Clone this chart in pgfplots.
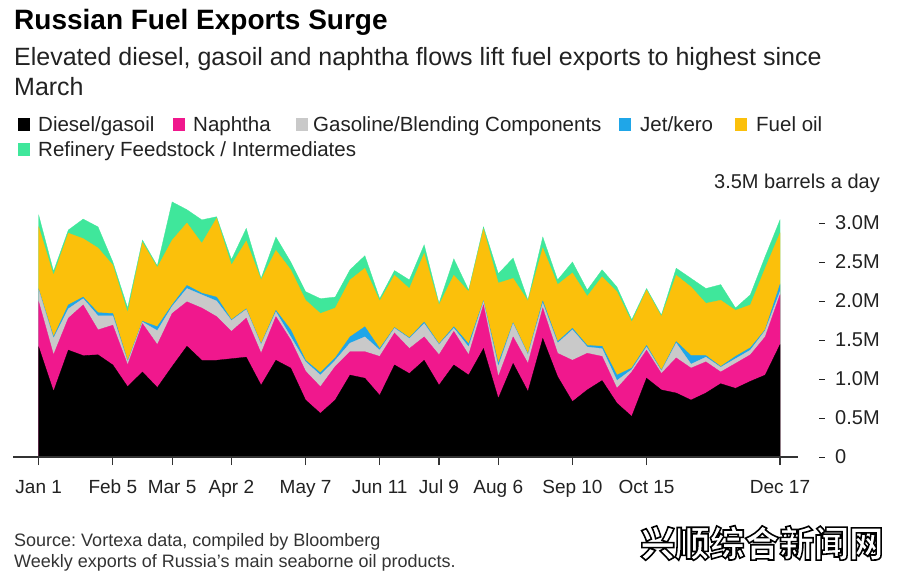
\documentclass[border=0pt]{standalone}
\usepackage{pgfplots}
\usepackage{pgfplotstable}
\pgfplotsset{compat=1.18}
\usepackage{fontspec}
\setmainfont{Liberation Sans}
\newfontfamily\cjk{Noto Sans CJK SC}
\frenchspacing

\definecolor{cDiesel}{HTML}{000000}
\definecolor{cNaph}{HTML}{F0188D}
\definecolor{cGas}{HTML}{C9C9C9}
\definecolor{cJet}{HTML}{1FA6E8}
\definecolor{cFuel}{HTML}{FBC00B}
\definecolor{cRef}{HTML}{3FE79B}
\definecolor{txt}{HTML}{222222}
\definecolor{src}{HTML}{333333}

% cumulative tops (million barrels a day), weekly from Jan 1 (x=0) to Dec 17 (x=50)
\pgfplotstableread{
x  D    N    G    J    F    R
0  1.41 1.99 2.14 2.15 2.95 3.10
1  0.84 1.31 1.52 1.54 2.33 2.38
2  1.37 1.78 1.90 1.95 2.87 2.91
3  1.30 1.95 2.03 2.05 2.80 3.05
4  1.31 1.63 1.81 1.85 2.68 2.95
5  1.18 1.69 1.81 1.84 2.46 2.50
6  0.90 1.18 1.22 1.23 1.85 1.91
7  1.09 1.71 1.73 1.74 2.75 2.78
8  0.89 1.44 1.62 1.67 2.43 2.45
9  1.16 1.84 1.93 1.95 2.78 3.27
10 1.42 1.99 2.16 2.20 3.00 3.17
11 1.24 1.91 2.08 2.10 2.74 3.04
12 1.24 1.80 2.00 2.05 3.06 3.08
13 1.26 1.61 1.75 1.76 2.46 2.53
14 1.28 1.78 1.89 1.90 2.77 2.93
15 0.92 1.33 1.44 1.45 2.27 2.29
16 1.24 1.80 1.86 1.88 2.65 2.82
17 1.14 1.50 1.54 1.63 2.40 2.50
18 0.73 1.10 1.22 1.24 2.01 2.12
19 0.56 0.90 1.05 1.08 1.84 2.03
20 0.73 1.16 1.24 1.27 1.91 2.05
21 1.05 1.35 1.46 1.54 2.27 2.40
22 1.01 1.35 1.54 1.67 2.42 2.58
23 0.79 1.29 1.37 1.39 2.00 2.03
24 1.18 1.59 1.65 1.66 2.33 2.39
25 1.07 1.39 1.52 1.53 2.16 2.27
26 1.24 1.54 1.71 1.73 2.61 2.72
27 0.92 1.31 1.44 1.45 1.95 1.97
28 1.18 1.61 1.65 1.67 2.33 2.54
29 1.05 1.31 1.41 1.45 2.12 2.14
30 1.39 1.95 1.99 2.00 2.92 2.95
31 0.75 1.03 1.16 1.20 2.23 2.35
32 1.20 1.54 1.71 1.72 2.29 2.55
33 0.84 1.20 1.31 1.32 2.00 2.01
34 1.52 1.91 1.97 2.00 2.68 2.82
35 1.03 1.33 1.46 1.48 2.21 2.27
36 0.71 1.24 1.63 1.65 2.36 2.50
37 0.86 1.33 1.41 1.43 2.06 2.14
38 0.98 1.29 1.39 1.42 2.31 2.40
39 0.69 0.88 0.98 1.05 2.12 2.18
40 0.52 1.09 1.12 1.14 1.73 1.76
41 1.01 1.37 1.41 1.43 2.14 2.16
42 0.86 1.07 1.10 1.11 1.80 1.82
43 0.82 1.27 1.46 1.48 2.33 2.42
44 0.73 1.14 1.19 1.30 2.18 2.29
45 0.82 1.22 1.28 1.30 1.97 2.16
46 0.94 1.09 1.15 1.16 2.01 2.21
47 0.88 1.20 1.26 1.29 1.88 1.91
48 0.97 1.31 1.37 1.40 1.95 2.08
49 1.05 1.54 1.62 1.63 2.42 2.57
50 1.44 2.08 2.12 2.21 2.87 3.04
}\fuel

\newcommand{\yt}[1]{\rule[6pt]{6pt}{1.1pt}\hspace{10pt}#1}

\begin{document}
\begin{tikzpicture}[x=1pt,y=1pt]
\useasboundingbox (0,0) rectangle (900,574);
\fill[white] (0,0) rectangle (900,574);

% titles
\node[anchor=base west, inner sep=0, font=\fontsize{28}{30}\selectfont\bfseries] at (14,544) {Russian Fuel Exports Surge};
\node[anchor=base west, inner sep=0, text=txt, font=\fontsize{25}{30}\selectfont] at (14,508) {Elevated diesel, gasoil and naphtha flows lift fuel exports to highest since};
\node[anchor=base west, inner sep=0, text=txt, font=\fontsize{25}{30}\selectfont] at (14,478) {March};

% legend
\begin{scope}[every node/.style={anchor=base west, inner sep=0, text=txt, font=\fontsize{20.5}{22}\selectfont}]
\fill[cDiesel] (18,443) rectangle (30,456);
\node at (38,442) {Diesel/gasoil};
\fill[cNaph] (173,443) rectangle (185,456);
\node at (193,442) {Naphtha};
\fill[cGas] (296,443) rectangle (308,456);
\node at (313,442) {Gasoline/Blending Components};
\fill[cJet] (619,443) rectangle (631,456);
\node at (640,442) {Jet/kero};
\fill[cFuel] (735,443) rectangle (747,456);
\node at (756,442) {Fuel oil};
\fill[cRef] (18,418) rectangle (30,431);
\node at (38,417) {Refinery Feedstock / Intermediates};
\end{scope}

\node[anchor=base east, inner sep=0, text=txt, font=\fontsize{20}{22}\selectfont] at (880,385) {3.5M barrels a day};

\begin{axis}[
  at={(38.7pt,117pt)}, anchor=south west,
  scale only axis, width=741.3pt, height=273pt,
  xmin=0, xmax=50, ymin=0, ymax=3.5,
  clip=false,
  axis line style={draw=none},
  xtick={0,5,9,13,18,23,27,31,36,41,50},
  xticklabels={Jan 1,Feb 5,Mar 5,Apr 2,May 7,Jun 11,Jul 9,Aug 6,Sep 10,Oct 15,Dec 17},
  xtick pos=bottom, tick align=outside,
  x tick style={draw=src, line width=1.2pt},
  major tick length=8pt,
  xticklabel style={font=\fontsize{19}{20}\selectfont, text=txt, anchor=base, yshift=-28pt, inner sep=0pt},
  ytick={0,0.5,1,1.5,2,2.5,3},
  yticklabels={\yt{0},\yt{0.5M},\yt{1.0M},\yt{1.5M},\yt{2.0M},\yt{2.5M},\yt{3.0M}},
  yticklabel pos=right,
  y tick style={draw=none},
  yticklabel style={font=\fontsize{20}{22}\selectfont, text=txt, anchor=west, inner sep=0pt, xshift=31pt},
]
\addplot[fill=cRef, draw=cRef, line width=0.3pt] table[x=x,y=R]{\fuel} \closedcycle;
\addplot[fill=cFuel, draw=cFuel, line width=0.3pt] table[x=x,y=F]{\fuel} \closedcycle;
\addplot[fill=cJet, draw=cJet, line width=0.3pt] table[x=x,y=J]{\fuel} \closedcycle;
\addplot[fill=cGas, draw=cGas, line width=0.3pt] table[x=x,y=G]{\fuel} \closedcycle;
\addplot[fill=cNaph, draw=cNaph, line width=0.3pt] table[x=x,y=N]{\fuel} \closedcycle;
\addplot[fill=cDiesel, draw=cDiesel, line width=0.3pt] table[x=x,y=D]{\fuel} \closedcycle;
\draw[src, line width=1.2pt] (axis cs:-1.73,0) -- (axis cs:51.2,0);
\end{axis}

% source
\node[anchor=base west, inner sep=0, text=src, font=\fontsize{18}{20}\selectfont] at (14,28) {Source: Vortexa data, compiled by Bloomberg};
\node[anchor=base west, inner sep=0, text=src, font=\fontsize{18}{20}\selectfont] at (14,7) {Weekly exports of Russia's main seaborne oil products.};

% watermark (white text with black outline)
\node[inner sep=0, text=white, font=\cjk\bfseries\fontsize{36}{36}\selectfont] at (762,31) {\scalebox{0.965}[1]{\special{pdf:literal direct 2 Tr 1.6 w 0 0 0 RG}兴顺综合新闻网\special{pdf:literal direct 0 Tr}}};
\end{tikzpicture}
\end{document}
